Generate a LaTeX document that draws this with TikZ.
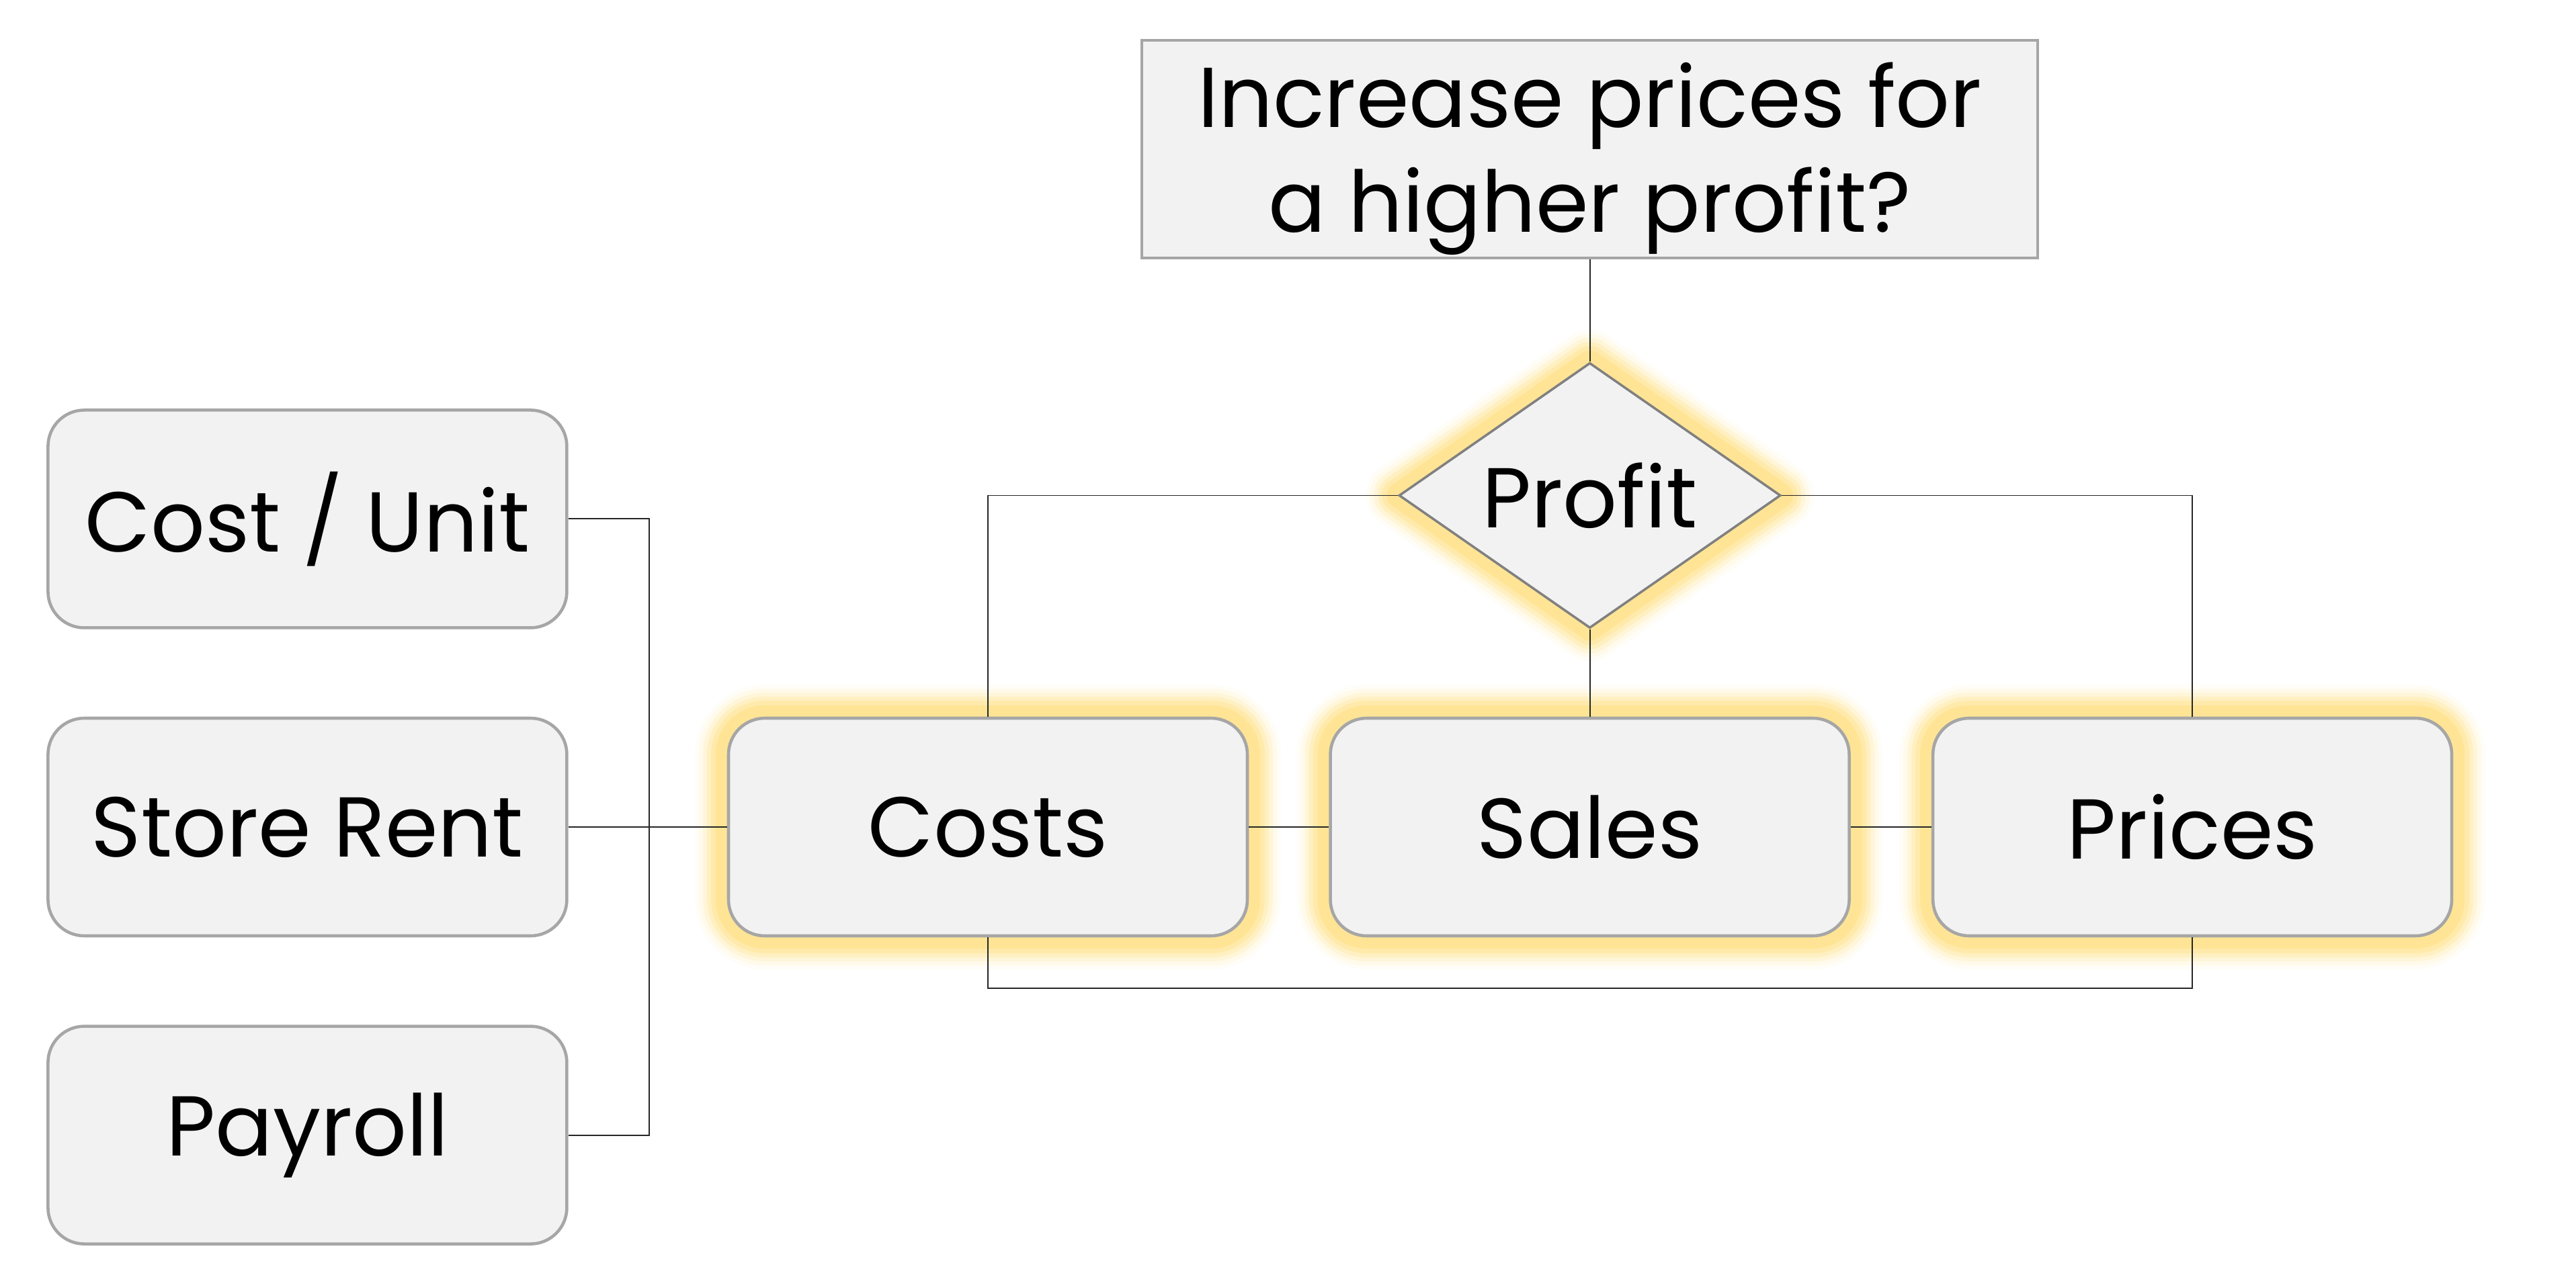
\documentclass[tikz,border=0pt]{standalone}
\usepackage{fontspec}
\setmainfont{Poppins}
\usepackage{tikz}
\usetikzlibrary{positioning}
\usetikzlibrary{shapes.geometric}
\definecolor{boxfill}{HTML}{F2F2F2}
\definecolor{boxline}{HTML}{A6A6A6}
\definecolor{diamline}{HTML}{808080}
\definecolor{linkc}{HTML}{262626}
\definecolor{glowc}{HTML}{FFE38F}
\begin{document}
\begin{tikzpicture}[
    every node/.style={font=\fontsize{36}{44.5}\selectfont},
    box/.style={draw=boxline,fill=boxfill,line width=1.3pt,rounded corners=0.54cm,minimum width=7.72cm,minimum height=3.24cm,inner sep=0},
    question/.style={draw=boxline,fill=boxfill,line width=1.3pt,minimum width=13.33cm,minimum height=3.24cm,align=center,inner sep=0},
    decision/.style={diamond,shape aspect=1.44,draw=diamline,fill=boxfill,line width=1pt,minimum width=5.68cm,minimum height=3.95cm,inner sep=0},
    glow/.style={
      preaction={draw=glowc,line width=1.0cm,opacity=.07,line join=round},
      preaction={draw=glowc,line width=0.88cm,opacity=.12,line join=round},
      preaction={draw=glowc,line width=0.76cm,opacity=.2,line join=round},
      preaction={draw=glowc,line width=0.64cm,opacity=.3,line join=round},
      preaction={draw=glowc,line width=0.52cm,opacity=.45,line join=round},
      preaction={draw=glowc,line width=0.38cm,opacity=.8,line join=round}},
    link/.style={draw=linkc,line width=0.55pt}]
  \useasboundingbox (0,0) rectangle (38.33,-18.76);
  \node[box,glow] (costs) at (14.70,-12.31) {Costs};
  \node[box,glow,right=1.19cm of costs] (sales) {Sales};
  \node[box,glow,right=1.20cm of sales] (prices) {Prices};
  \node[decision,glow,above=1.30cm of sales] (profit) {Profit};
  \node[question,above=1.52cm of profit] (q) {\rule{0pt}{1.25cm}Increase prices for\\a higher profit?};
  \node[box,left=2.36cm of costs] (rent) {Store Rent};
  \node[box,above=1.30cm of rent] (unit) {Cost / Unit};
  \node[box,below=1.30cm of rent] (payroll) {Payroll};
  \draw[link] (q) -- (profit);
  \draw[link] (profit) -- (sales);
  \draw[link] (profit.west) -| (costs.north);
  \draw[link] (profit.east) -| (prices.north);
  \draw[link] (costs) -- (sales);
  \draw[link] (sales) -- (prices);
  \draw[link] (costs.south) -- ++(0,-0.76) -| (prices.south);
  \draw[link] (rent) -- (costs);
  \draw[link] (unit.east) -- ++(1.2,0) |- (payroll.east);
\end{tikzpicture}
\end{document}
